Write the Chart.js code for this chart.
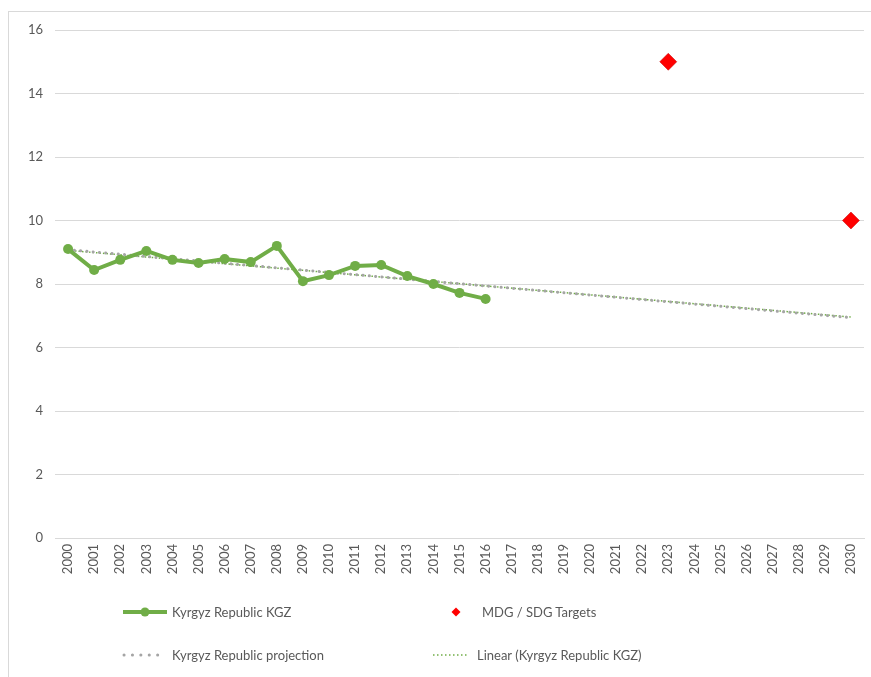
<!DOCTYPE html>
<html>
<head>
<meta charset="utf-8">
<script src="https://cdn.jsdelivr.net/npm/chart.js@4"></script>
<style>
  html, body { margin: 0; padding: 0; background: #fff; }
  #wrap { position: relative; width: 871px; height: 677px; overflow: hidden; }
  #frame { position: absolute; left: 8px; top: 11px; width: 863px; height: 666px;
           border-left: 1px solid #D9D9D9; border-top: 1px solid #D9D9D9; box-sizing: border-box; }
  canvas { position: absolute; left: 0; top: 0; }
  .lg { position: absolute; font-family: Lato, "Liberation Sans", sans-serif; font-size: 13px; color: #595959;
        white-space: nowrap; line-height: 16px; }
  .sym { position: absolute; }
</style>
</head>
<body>
<div id="wrap">
  <div id="frame"></div>
  <canvas id="c" width="873" height="677"></canvas>
  <svg class="sym" style="left:120px;top:604px" width="50" height="16">
    <line x1="3" y1="8" x2="47" y2="8" stroke="#70AD47" stroke-width="4"/>
    <circle cx="25" cy="8" r="4.5" fill="#70AD47"/>
  </svg>
  <div class="lg" style="left:172px;top:604px">Kyrgyz Republic KGZ</div>
  <svg class="sym" style="left:448px;top:604px" width="16" height="16">
    <polygon points="8,3.5 12.5,8 8,12.5 3.5,8" fill="#FF0000"/>
  </svg>
  <div class="lg" style="left:482px;top:604px">MDG / SDG Targets</div>
  <svg class="sym" style="left:120px;top:647px" width="50" height="16">
    <line x1="4" y1="8" x2="46" y2="8" stroke="#A5A5A5" stroke-width="3" stroke-dasharray="0.1 8.3" stroke-linecap="round"/>
  </svg>
  <div class="lg" style="left:172px;top:647px">Kyrgyz Republic projection</div>
  <svg class="sym" style="left:430px;top:647px" width="42" height="16">
    <line x1="3" y1="8" x2="39" y2="8" stroke="#70AD47" stroke-width="1.5" stroke-dasharray="1.5 2.5"/>
  </svg>
  <div class="lg" style="left:477px;top:647px">Linear (Kyrgyz Republic KGZ)</div>
</div>
<script>
const years = ['2000','2001','2002','2003','2004','2005','2006','2007','2008','2009','2010',
  '2011','2012','2013','2014','2015','2016','2017','2018','2019','2020','2021','2022','2023',
  '2024','2025','2026','2027','2028','2029','2030'];
const kgzValues = [9.10, 8.44, 8.76, 9.04, 8.76, 8.66, 8.79, 8.69, 9.20, 8.09, 8.28,
  8.57, 8.60, 8.25, 8.00, 7.72, 7.53];
const targetYears = ['2023', '2030'];
const targetValues = [15, 10];
const projectionYears = ['2000', '2030'];
const projectionValues = [9.08, 6.94];
const trendYears = ['2000', '2030'];
const trendValues = [9.06, 6.96];
const yTicks = [0, 2, 4, 6, 8, 10, 12, 14, 16];

const toPts = (xs, ys) => xs.map((x, i) => ({ x: x, y: ys[i] }));
const TXT = '#595959';
const FONT = { family: 'Lato, "Liberation Sans", sans-serif', size: 13 };

new Chart(document.getElementById('c'), {
  type: 'line',
  data: {
    labels: years,
    datasets: [
      {
        label: 'Linear (Kyrgyz Republic KGZ)',
        data: toPts(trendYears, trendValues),
        borderColor: '#70AD47', borderWidth: 1.5, borderDash: [1.5, 2],
        pointRadius: 0, fill: false, order: 3
      },
      {
        label: 'Kyrgyz Republic projection',
        data: toPts(projectionYears, projectionValues),
        borderColor: '#A5A5A5', borderWidth: 3, borderDash: [0.1, 6.2], borderCapStyle: 'round',
        pointRadius: 0, fill: false, order: 2
      },
      {
        label: 'Kyrgyz Republic KGZ',
        data: kgzValues,
        borderColor: '#70AD47', backgroundColor: '#70AD47', borderWidth: 4,
        pointRadius: 5, pointBackgroundColor: '#70AD47', pointBorderWidth: 0,
        tension: 0, fill: false, order: 1
      },
      {
        label: 'MDG / SDG Targets',
        data: toPts(targetYears, targetValues),
        showLine: false,
        pointStyle: 'rectRot', pointRadius: 8.5,
        pointBackgroundColor: '#FF0000', pointBorderColor: '#C00000', pointBorderWidth: 0.5,
        order: 0
      }
    ]
  },
  options: {
    responsive: false, animation: false, devicePixelRatio: 1,
    layout: { padding: { top: 30, right: 4, left: 0, bottom: 0 } },
    plugins: { legend: { display: false }, tooltip: { enabled: false } },
    scales: {
      x: {
        type: 'category', offset: true,
        grid: { display: false, drawTicks: false },
        border: { display: true, color: '#D9D9D9', width: 1 },
        ticks: { color: TXT, font: FONT, minRotation: 90, maxRotation: 90, padding: 6, autoSkip: false },
        afterFit: s => { s.height = 139; }
      },
      y: {
        min: 0, max: 16,
        afterBuildTicks: s => { s.ticks = yTicks.map(v => ({ value: v })); },
        grid: { color: '#D9D9D9', lineWidth: 1, drawTicks: false },
        border: { display: false },
        ticks: { color: TXT, font: FONT, padding: 12 },
        afterFit: s => { s.width = 55; }
      }
    }
  }
});
</script>
</body>
</html>
